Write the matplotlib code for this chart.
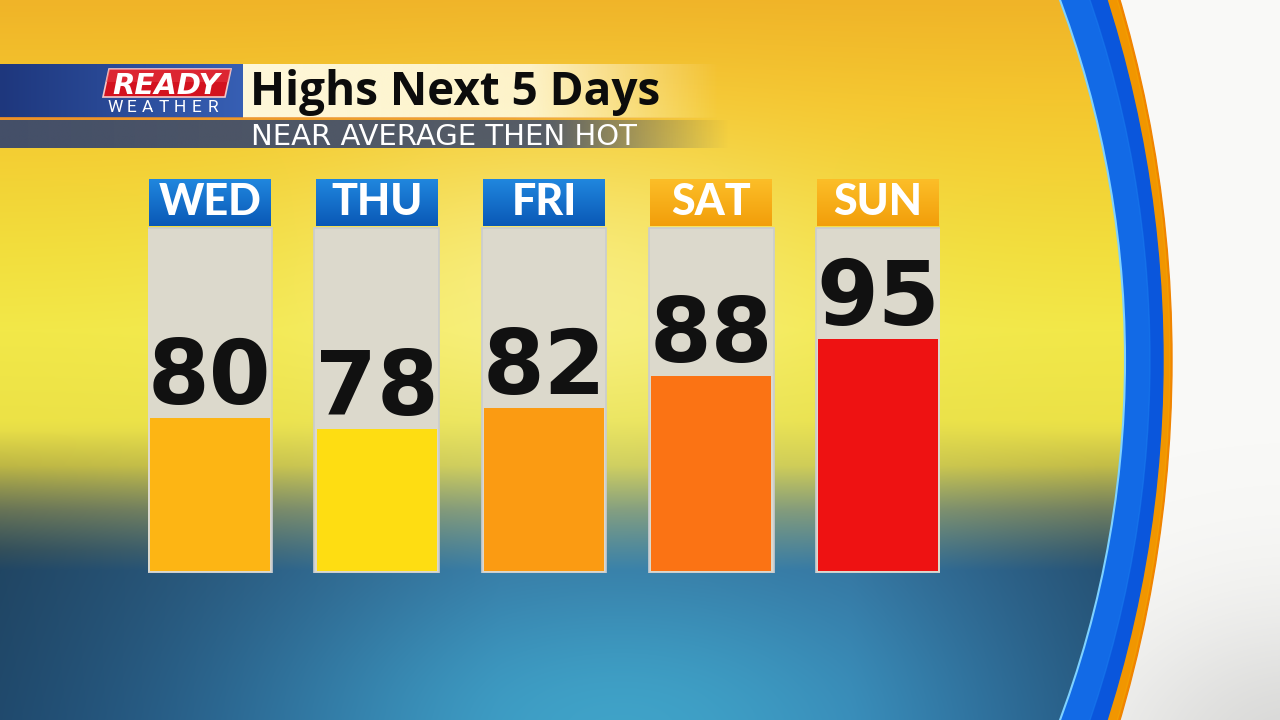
import numpy as np
import matplotlib
matplotlib.use("Agg")
import matplotlib.pyplot as plt
from matplotlib.patches import Circle, Polygon, Rectangle

# ---------------- data ----------------
days = ["WED", "THU", "FRI", "SAT", "SUN"]
highs = [80, 78, 82, 88, 95]
bar_colors = ["#fdb514", "#fedd12", "#fb9b12", "#fb7314", "#ee1212"]
header_style = ["blue", "blue", "blue", "orange", "orange"]
title = "Highs Next 5 Days"
subtitle = "NEAR AVERAGE THEN HOT"
logo_top = "READY"
logo_bottom = "WEATHER"

W, H = 1280, 720
fig = plt.figure(figsize=(12.8, 7.2), dpi=100)

# ---------------- background ----------------
bg = fig.add_axes([0, 0, 1, 1])
bg.set_xlim(0, W)
bg.set_ylim(H, 0)
bg.axis("off")

yy, xx = np.mgrid[0:H, 0:W].astype(float)
ky = [0, 100, 250, 330, 420, 465, 510, 570, 720]
kc = np.array([
    [240, 180, 40],
    [244, 198, 46],
    [242, 222, 60],
    [242, 232, 72],
    [236, 226, 70],
    [212, 204, 76],
    [135, 150, 112],
    [50, 106, 152],
    [48, 110, 165],
], float)
img = np.zeros((H, W, 3))
for c in range(3):
    img[..., c] = np.interp(yy, ky, kc[:, c])
lower = np.clip((yy - 430) / 120, 0, 1)
dark = 1 - 0.35 * lower * np.clip(1 - xx / 500, 0, 1)
img *= dark[..., None]
dark2 = 1 - 0.25 * lower * np.clip((xx - 850) / 250, 0, 1)
img *= dark2[..., None]
g = np.exp(-(((xx - 560) / 260) ** 2 + ((yy - 290) / 150) ** 2))
img = img * (1 - 0.45 * g[..., None]) + np.array([255, 250, 200]) * 0.45 * g[..., None]
g2 = np.exp(-(((xx - 620) / 330) ** 2 + ((yy - 730) / 170) ** 2))
img = img * (1 - 0.7 * g2[..., None]) + np.array([70, 185, 215]) * 0.7 * g2[..., None]
img = np.clip(img / 255, 0, 1)

bg.add_patch(Rectangle((0, 0), W, H, color="#f9f9f7", zorder=0))
shade = np.exp(-(((xx - 1300) / 200) ** 2 + ((yy - 760) / 150) ** 2))
sh = np.ones((H, W, 4)); sh[..., :3] = 0.6; sh[..., 3] = 0.35 * shade
bg.imshow(sh, extent=[0, W, H, 0], zorder=0.5)
bg.add_patch(Circle((-100, 360), 1272, color="#f08400", zorder=1))
bg.add_patch(Circle((-92, 360), 1262, color="#f5b800", zorder=1, alpha=0.35))
bg.add_patch(Circle((-22, 360), 1185, color="#0a56dc", zorder=2))
bg.add_patch(Circle((40, 360), 1110, color="#1a7ef0", zorder=2, alpha=0.5))
inner = Circle((96, 360), 1029, transform=bg.transData, facecolor="none")
bim = bg.imshow(img, extent=[0, W, H, 0], zorder=3, interpolation="bilinear")
bim.set_clip_path(inner)
bg.add_patch(Circle((96, 360), 1029, facecolor="none", edgecolor="#7fd2ff", lw=1.5, zorder=3.2))
bg.set_xlim(0, W)
bg.set_ylim(H, 0)

# ---------------- banner ----------------
gx = np.linspace(0, 1, 256)
blue_grad = np.zeros((1, 256, 3))
blue_grad[0, :, 0] = np.interp(gx, [0, 1], [30, 55]) / 255
blue_grad[0, :, 1] = np.interp(gx, [0, 1], [55, 95]) / 255
blue_grad[0, :, 2] = np.interp(gx, [0, 1], [125, 180]) / 255
bg.imshow(blue_grad, extent=[0, 243, 118, 64], aspect="auto", zorder=4)
cream = np.zeros((1, 256, 4))
cream[0, :, :3] = np.array([255, 251, 228]) / 255
cream[0, :, 3] = np.interp(gx, [0, 0.6, 1], [0.95, 0.85, 0.0])
bg.imshow(cream, extent=[243, 720, 118, 64], aspect="auto", zorder=4)
oline = np.zeros((1, 256, 4))
oline[0, :, :3] = np.array([235, 140, 40]) / 255
oline[0, :, 3] = np.interp(gx, [0, 0.7, 1], [0.9, 0.6, 0.0])
bg.imshow(oline, extent=[0, 720, 120.5, 117.5], aspect="auto", zorder=4.1)
slate = np.zeros((1, 256, 4))
slate[0, :, :3] = np.array([58, 72, 108]) / 255
slate[0, :, 3] = np.interp(gx, [0, 0.75, 1], [0.95, 0.85, 0.0])
bg.imshow(slate, extent=[0, 730, 148, 120.5], aspect="auto", zorder=4)
bg.set_xlim(0, W)
bg.set_ylim(H, 0)

bg.add_patch(Polygon([[109, 69], [231, 69], [225, 97], [103, 97]], closed=True,
                     facecolor="#d3121f", edgecolor="#f4c8c8", lw=1.2, zorder=5))
bg.add_patch(Polygon([[109, 69], [231, 69], [228, 82], [106, 82]], closed=True,
                     facecolor="#e8404a", alpha=0.45, lw=0, zorder=5.1))
bg.text(166, 93.5, logo_top, family="DejaVu Sans", fontsize=21, fontweight="bold",
        style="italic", color="white", ha="center", va="baseline", zorder=6)
for k, ch in enumerate(logo_bottom):
    bg.text(115 + k * 16.3, 112.5, ch, family="Roboto", fontsize=12.5,
            color="white", ha="center", va="baseline", zorder=6)

bg.text(250, 105, title, family="Open Sans", fontsize=33, fontweight="bold",
        color="#0c0c0c", ha="left", va="baseline", zorder=6)
bg.text(251, 145, subtitle, family="DejaVu Sans", fontsize=21, fontweight="normal",
        color="white", ha="left", va="baseline", zorder=6)

# ---------------- bars ----------------
y_base = 50.5
y_panel = 116.2
y_head0 = 116.6
y_top = 125.55
ax = fig.add_axes([148 / W, (H - 573) / H, (940 - 148) / W, (573 - 179) / H])
ax.set_xlim(-0.37, 4.37)
ax.set_ylim(y_base, y_top)
ax.axis("off")
ax.patch.set_alpha(0)

x = np.arange(len(days))
ax.bar(x, y_panel - y_base, bottom=y_base, width=0.748, color="#dcd9cc",
       edgecolor="#c9ccd0", lw=1.2, zorder=1)
ax.bar(x, np.array(highs) - (y_base + 0.35), bottom=y_base + 0.35, width=0.72,
       color=bar_colors, lw=0, zorder=2)

grad_t = np.linspace(0, 1, 64)[:, None]
for i, (d, st) in enumerate(zip(days, header_style)):
    if st == "blue":
        top, bot = np.array([32, 135, 222]), np.array([10, 88, 182])
    else:
        top, bot = np.array([252, 190, 40]), np.array([242, 158, 10])
    arr = (top[None, :] * (1 - grad_t) + bot[None, :] * grad_t)[:, None, :] / 255
    ax.imshow(arr, extent=[i - 0.365, i + 0.365, y_head0, y_top], aspect="auto",
              zorder=3, origin="upper")
    ax.text(i, 118.75, d, family="Lato", fontsize=31, fontweight="black",
            color="white", ha="center", va="baseline", zorder=4)

for i, v in enumerate(highs):
    ax.annotate(str(v), (i, v), xytext=(0, 10), textcoords="offset points",
                family="DejaVu Sans", fontsize=64, fontweight="bold", color="#111111",
                ha="center", va="baseline", zorder=5)

ax.set_xlim(-0.37, 4.37)
ax.set_ylim(y_base, y_top)

fig.savefig("out.png", dpi=100)
